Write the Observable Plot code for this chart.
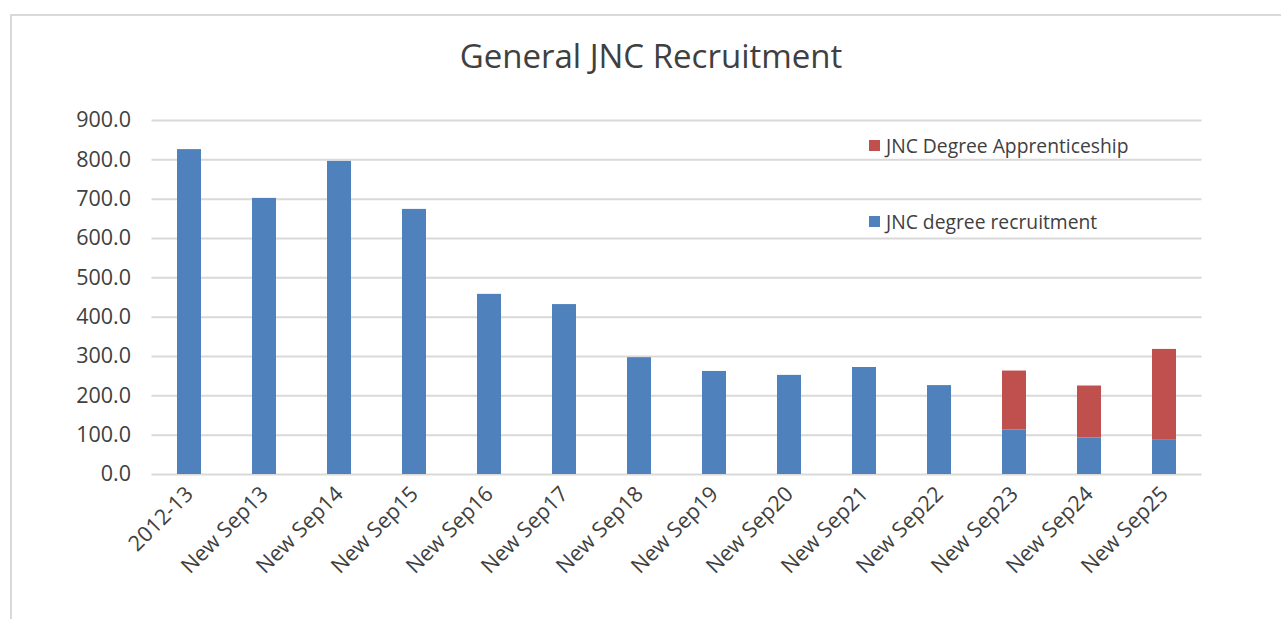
<!DOCTYPE html>
<html>
<head>
<meta charset="utf-8">
<script src="https://cdn.jsdelivr.net/npm/d3@7"></script>
<script src="https://cdn.jsdelivr.net/npm/@observablehq/plot@0.6"></script>
<style>
  html, body { margin: 0; padding: 0; background: #fff; }
  body { width: 1281px; height: 619px; overflow: hidden; position: relative; font-family: "Open Sans", "Noto Sans", sans-serif; }
  #frame { position: absolute; left: 10px; top: 14px; width: 1290px; height: 640px; border: 2px solid #d9d9d9; box-sizing: border-box; }
  #title { position: absolute; left: 0; width: 1302px; top: 33px; text-align: center; font-size: 33px; color: #404040; }
  #chart { position: absolute; left: 0; top: 0; }
  .legend { position: absolute; left: 869px; font-size: 19.3px; color: #404040; display: flex; align-items: center; }
  .legend span.sw { display: inline-block; width: 11px; height: 11px; margin-right: 6px; }
</style>
</head>
<body>
<div id="frame"></div>
<div id="chart"></div>
<div id="title">General JNC Recruitment</div>
<div class="legend" style="top:132px"><span class="sw" style="background:#C0504D"></span>JNC Degree Apprenticeship</div>
<div class="legend" style="top:208px"><span class="sw" style="background:#4F81BD"></span>JNC degree recruitment</div>
<script>
const categories = ["2012-13", "New Sep13", "New Sep14", "New Sep15", "New Sep16", "New Sep17", "New Sep18",
  "New Sep19", "New Sep20", "New Sep21", "New Sep22", "New Sep23", "New Sep24", "New Sep25"];
const recruitment = [826, 702, 796, 674, 458, 432, 297, 262, 252, 272, 226, 113, 93, 87];
const apprenticeship = [0, 0, 0, 0, 0, 0, 0, 0, 0, 0, 0, 150, 132, 231];
const seriesNames = ["JNC degree recruitment", "JNC Degree Apprenticeship"];
const seriesColors = ["#4F81BD", "#C0504D"];
const yTicks = [0, 100, 200, 300, 400, 500, 600, 700, 800, 900];

const rows = [];
categories.forEach((c, i) => rows.push({cat: c, series: seriesNames[0], value: recruitment[i]}));
categories.forEach((c, i) => { if (apprenticeship[i] > 0) rows.push({cat: c, series: seriesNames[1], value: apprenticeship[i]}); });

const chart = Plot.plot({
  width: 1281,
  height: 619,
  marginLeft: 151.5,
  marginRight: 79.5,
  marginTop: 120,
  marginBottom: 145,
  style: {fontFamily: "'Open Sans', sans-serif", fontSize: "21.5px", color: "#404040", background: "transparent"},
  x: {domain: categories, paddingInner: 0.68, paddingOuter: 0.34, label: null},
  y: {domain: [0, 900], label: null},
  color: {domain: seriesNames, range: seriesColors},
  marks: [
    Plot.gridY(yTicks, {stroke: "#d9d9d9", strokeOpacity: 1, strokeWidth: 2}),
    Plot.barY(rows, {x: "cat", y: "value", fill: "series"}),
    Plot.axisY(yTicks, {tickSize: 0, tickPadding: 21, tickFormat: d3.format(".1f"), fill: "#404040", label: null}),
    Plot.axisX({tickSize: 0, tickRotate: -45, tickPadding: 16, fill: "#404040", label: null})
  ]
});
document.getElementById("chart").appendChild(chart);
</script>
</body>
</html>
